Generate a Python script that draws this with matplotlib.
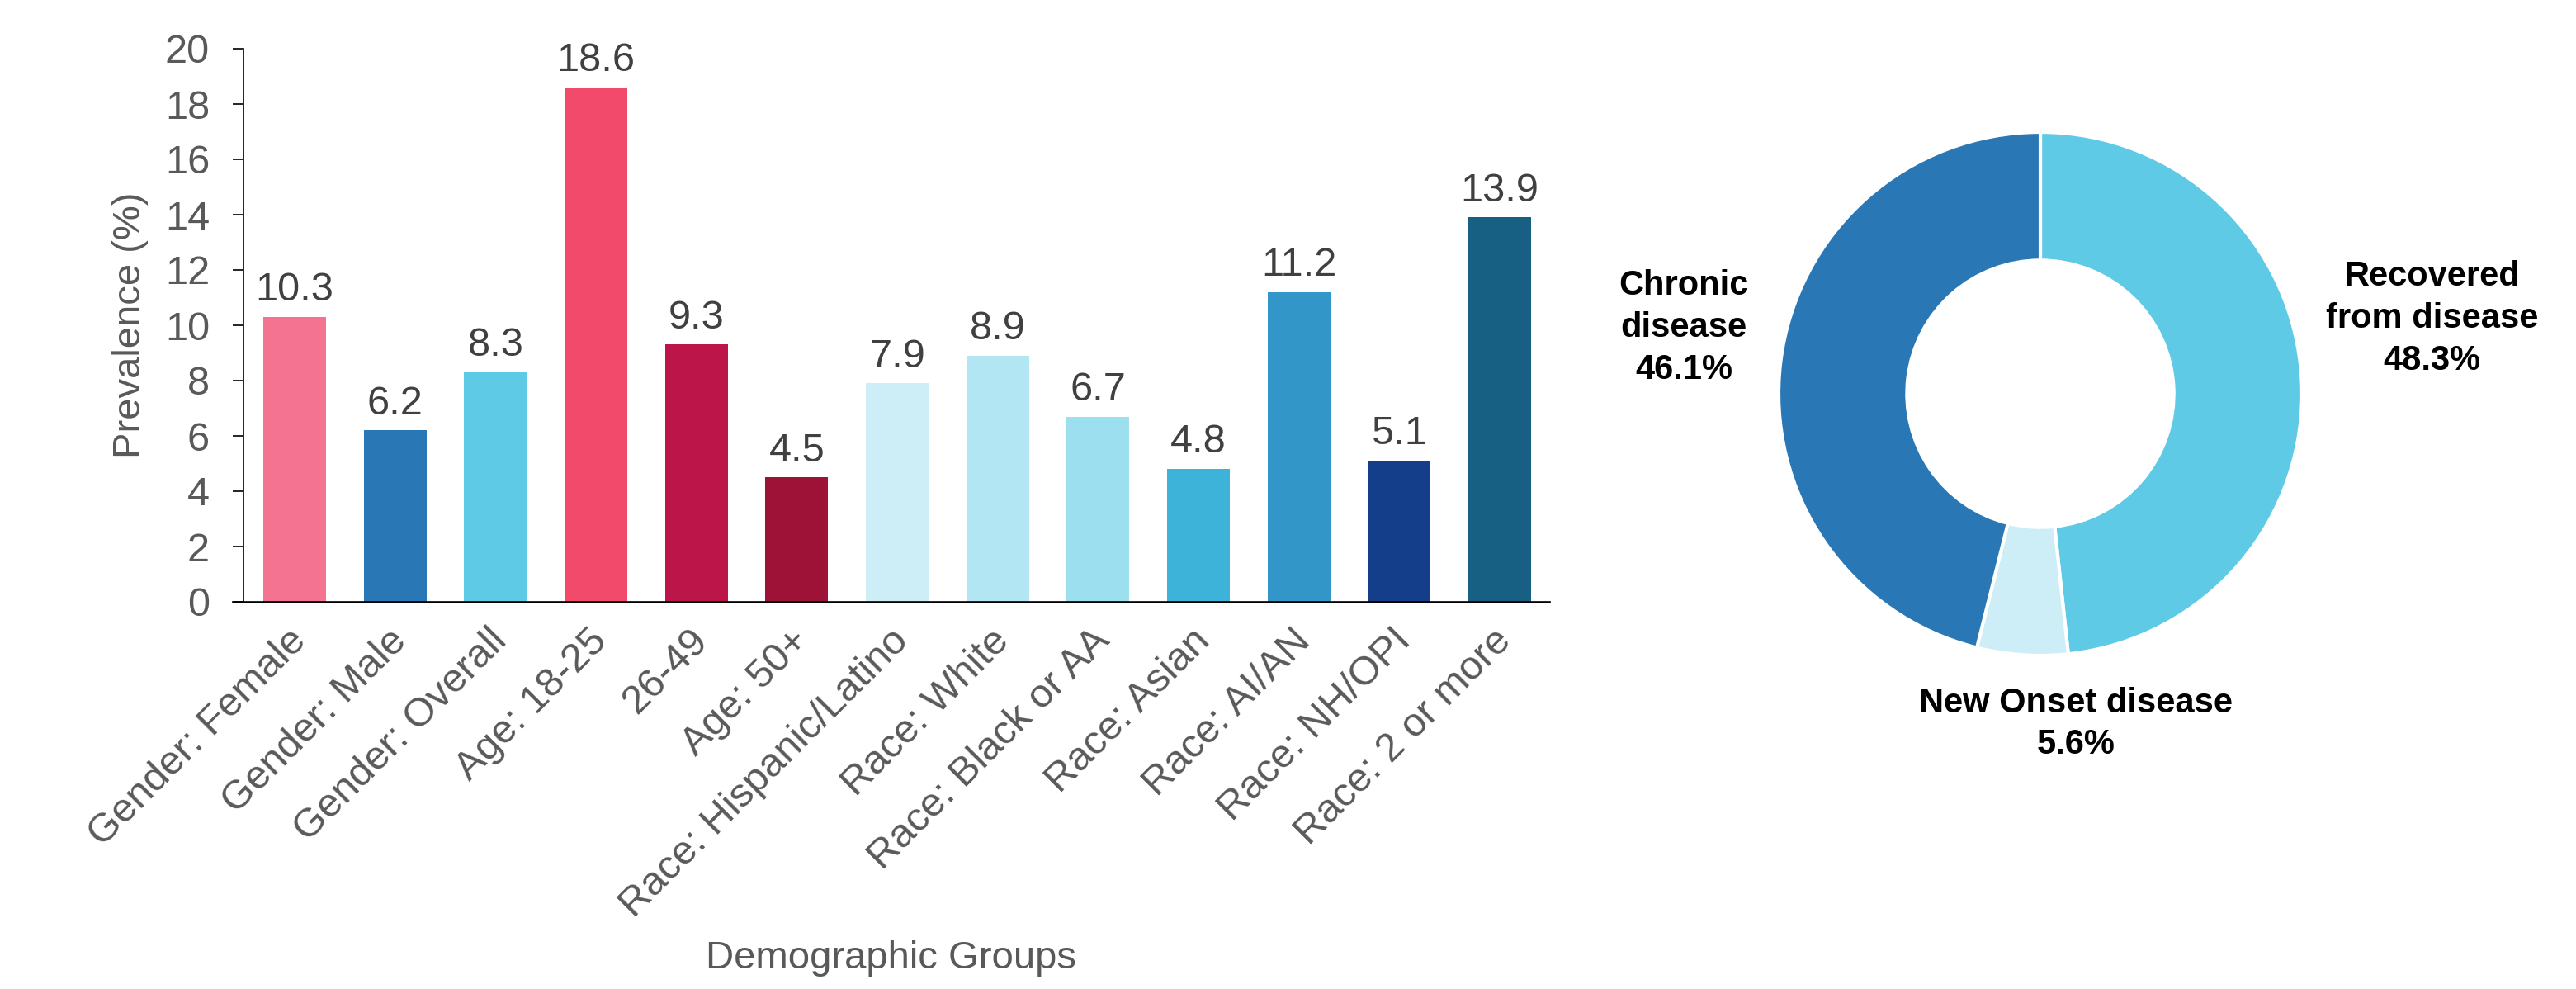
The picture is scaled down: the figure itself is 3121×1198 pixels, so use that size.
import matplotlib
matplotlib.use("Agg")
import matplotlib.pyplot as plt
from matplotlib.transforms import ScaledTranslation

plt.rcParams['font.family'] = ['Liberation Sans', 'DejaVu Sans']

# ---- data ----
groups = ["Gender: Female", "Gender: Male", "Gender: Overall", "Age: 18-25", "26-49",
          "Age: 50+", "Race: Hispanic/Latino", "Race: White", "Race: Black or AA",
          "Race: Asian", "Race: AI/AN", "Race: NH/OPI", "Race: 2 or more"]
prevalence = [10.3, 6.2, 8.3, 18.6, 9.3, 4.5, 7.9, 8.9, 6.7, 4.8, 11.2, 5.1, 13.9]
bar_colors = ["#F47391", "#2A77B5", "#5ECAE6", "#F24A6A", "#BC1549", "#9E1237",
              "#CDEEF7", "#B2E6F3", "#9CDFEE", "#3DB3DA", "#3396C9", "#153E8A", "#176083"]

status_labels = ["Recovered\nfrom disease", "New Onset disease", "Chronic\ndisease"]
status_values = [48.3, 5.6, 46.1]
status_colors = ["#5ECAE6", "#CDEEF7", "#2A77B5"]

W, H = 3121, 1198
fig = plt.figure(figsize=(W / 100, H / 100), dpi=100)

# ---- bar chart ----
ax = fig.add_axes([282 / W, 1 - 729 / H, (1877 - 282) / W, (729 - 59) / H])
x = list(range(len(groups)))
bars = ax.bar(x, prevalence, width=0.625, color=bar_colors)
ax.set_xlim(-0.617, len(groups) - 0.507)
ax.set_ylim(0, 20)
ax.set_yticks(range(0, 21, 2))
for s in ["top", "right"]:
    ax.spines[s].set_visible(False)
ax.spines["left"].set_position(("data", -0.51))
ax.spines["left"].set_linewidth(1.2)
ax.spines["bottom"].set_linewidth(1.9)
ax.tick_params(axis="y", length=9.5, width=1.2, pad=20, labelsize=35, labelcolor="#595959")
ax.tick_params(axis="x", length=0, pad=24, labelsize=35, labelcolor="#595959")
ax.set_xticks(x)
ax.set_xticklabels(groups, rotation=45, ha="right", rotation_mode="anchor")
shift = ScaledTranslation(-0.09, 0.09, fig.dpi_scale_trans)
for lbl in ax.get_xticklabels():
    lbl.set_transform(lbl.get_transform() + shift)
for b, v in zip(bars, prevalence):
    ax.annotate(f"{v}", (b.get_x() + b.get_width() / 2, v), xytext=(0, 7),
                textcoords="offset points", ha="center", va="bottom",
                fontsize=35, color="#404040")
ax.set_ylabel("Prevalence (%)", fontsize=34, color="#595959")
ax.yaxis.set_label_coords(-0.064, 0.5)
ax.set_xlabel("Demographic Groups", fontsize=34, color="#595959")
ax.xaxis.set_label_coords(0.5, -0.612)

# ---- donut ----
R = 317
k = 1.6
cx, cy = 2472, 477
side = 2 * R * k
ax2 = fig.add_axes([(cx - side / 2) / W, (H - cy - side / 2) / H, side / W, side / H])
ax2.pie(status_values, colors=status_colors, startangle=90, counterclock=False,
        radius=1, wedgeprops=dict(width=0.49, edgecolor="white", linewidth=3))
ax2.set_xlim(-k, k)
ax2.set_ylim(-k, k)
ax2.set_aspect("equal")
ax2.axis("off")
label_pos = [(1.498, 0.287), (0.136, -1.262), (-1.363, 0.252)]
for lab, v, (px, py) in zip(status_labels, status_values, label_pos):
    ax2.text(px, py, f"{lab}\n{v}%", ha="center", va="center", fontsize=30,
             fontweight="bold", color="black", multialignment="center",
             linespacing=1.35)

fig.savefig("out.png", dpi=100)
